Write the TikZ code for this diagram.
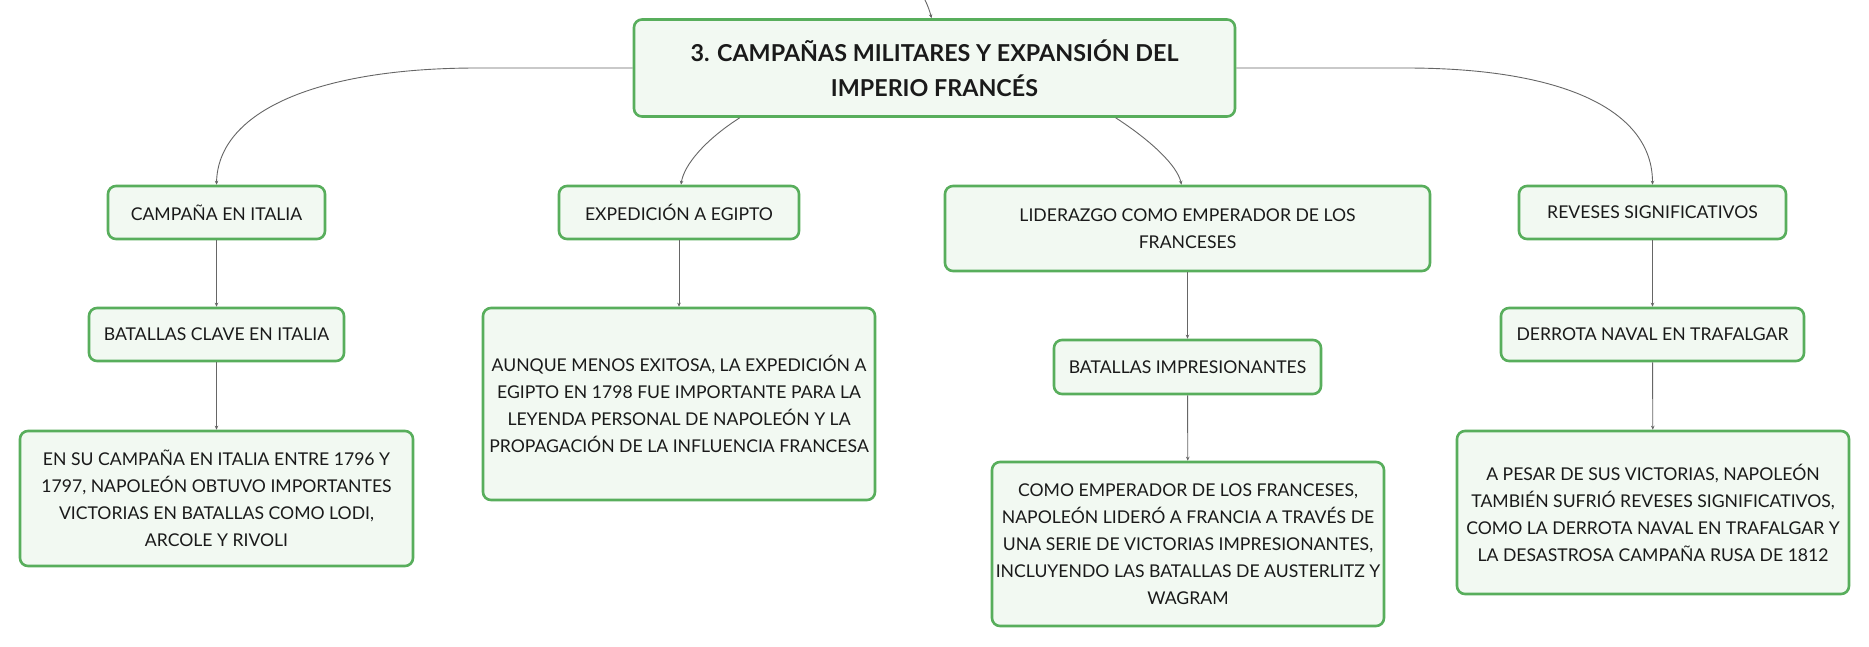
\documentclass[tikz,border=0pt]{standalone}
\usepackage{fontspec}
\setmainfont{Lato}
\usetikzlibrary{arrows.meta,calc}
\definecolor{boxgreen}{HTML}{58AE5C}
\definecolor{boxfill}{HTML}{F2F9F2}
\definecolor{linkgray}{HTML}{666666}
\definecolor{txt}{HTML}{1A1A1A}
\tikzset{
  mbox/.style={rectangle, rounded corners=8pt, draw=boxgreen, line width=2.6pt, fill=boxfill,
    text=txt, align=center, inner sep=0pt, font=\fontsize{17.6}{27}\selectfont},
  titlebox/.style={mbox, font=\fontsize{23.3}{35}\selectfont\bfseries},
  link/.style={draw=linkgray, line width=0.9pt, -{Stealth[length=4pt,width=3.5pt]}}
}
\begin{document}
\begin{tikzpicture}[x=1pt,y=-1pt]
\useasboundingbox (0,0) rectangle (1869,646);
\fill[white] (0,0) rectangle (1869,646);

\node[titlebox, minimum width=601pt, minimum height=97pt] (main) at (934.5,68) {3. CAMPAÑAS MILITARES Y EXPANSIÓN DEL\\IMPERIO FRANCÉS};

\node[mbox, minimum width=217pt, minimum height=53pt] (ita) at (216.5,212.5) {CAMPAÑA EN ITALIA};
\node[mbox, minimum width=240pt, minimum height=53pt] (egi) at (679,212.5) {EXPEDICIÓN A EGIPTO};
\node[mbox, minimum width=485pt, minimum height=85pt] (lid) at (1187.5,228.5) {LIDERAZGO COMO EMPERADOR DE LOS\\FRANCESES};
\node[mbox, minimum width=267pt, minimum height=53pt] (rev) at (1652.5,212.5) {REVESES SIGNIFICATIVOS};

\node[mbox, minimum width=255pt, minimum height=53pt] (bci) at (216.5,334.5) {BATALLAS CLAVE EN ITALIA};
\node[mbox, minimum width=392pt, minimum height=192pt] (egt) at (679,404) {AUNQUE MENOS EXITOSA, LA EXPEDICIÓN A\\EGIPTO EN 1798 FUE IMPORTANTE PARA LA\\LEYENDA PERSONAL DE NAPOLEÓN Y LA\\PROPAGACIÓN DE LA INFLUENCIA FRANCESA};
\node[mbox, minimum width=267pt, minimum height=54pt] (bim) at (1187.5,367) {BATALLAS IMPRESIONANTES};
\node[mbox, minimum width=303pt, minimum height=53pt] (der) at (1652.5,334.5) {DERROTA NAVAL EN TRAFALGAR};

\node[mbox, minimum width=393pt, minimum height=135pt] (itt) at (216.5,498.5) {EN SU CAMPAÑA EN ITALIA ENTRE 1796 Y\\1797, NAPOLEÓN OBTUVO IMPORTANTES\\VICTORIAS EN BATALLAS COMO LODI,\\ARCOLE Y RIVOLI};
\node[mbox, minimum width=392pt, minimum height=164pt] (lit) at (1188,544) {COMO EMPERADOR DE LOS FRANCESES,\\NAPOLEÓN LIDERÓ A FRANCIA A TRAVÉS DE\\UNA SERIE DE VICTORIAS IMPRESIONANTES,\\INCLUYENDO LAS BATALLAS DE AUSTERLITZ Y\\WAGRAM};
\node[mbox, minimum width=392pt, minimum height=163pt] (ret) at (1653,512.5) {A PESAR DE SUS VICTORIAS, NAPOLEÓN\\TAMBIÉN SUFRIÓ REVESES SIGNIFICATIVOS,\\COMO LA DERROTA NAVAL EN TRAFALGAR Y\\LA DESASTROSA CAMPAÑA RUSA DE 1812};

\coordinate (topin) at (925,0);
\draw[link] (topin) .. controls (928,6) and (930,12) .. ($(main.north)+(-3,0)$);

\draw[link] (main.west) -- (477,68) .. controls (320,68) and (218,110) .. (ita.north);
\draw[link] (main.east) -- (1406,68) .. controls (1563,68) and (1652.5,110) .. (rev.north);
\draw[link] ($(main.south west)+(107,0)$) .. controls (705,140) and (684,165) .. ($(egi.north)+(2,0)$);
\draw[link] ($(main.south west)+(483,0)$) .. controls (1150,140) and (1177,165) .. ($(lid.north)+(-6,0)$);

\draw[link] (ita) -- (bci);
\draw[link] (bci) -- (itt);
\draw[link] (egi) -- (egt);
\draw[link] (lid) -- (bim);
\draw[link] (bim) -- (lit);
\draw[link] (rev) -- (der);
\draw[link] (der) -- (ret);
\end{tikzpicture}
\end{document}
